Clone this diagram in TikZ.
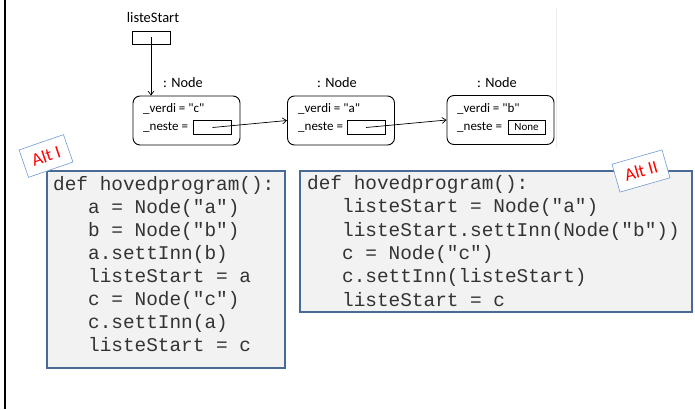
\documentclass[tikz,border=0pt]{standalone}
\usepackage{fontspec}
\setmainfont{Carlito}
\newfontfamily\cfont{Carlito}
\newfontfamily\codefont{Liberation Mono}
\usetikzlibrary{arrows.meta}
\definecolor{codebg}{HTML}{F2F2F2}
\definecolor{codeborder}{HTML}{4A6A96}
\definecolor{altborder}{HTML}{6E9BD3}
\definecolor{altred}{HTML}{FF0000}
\tikzset{
  objbox/.style={draw, line width=0.9pt, rounded corners=7pt, minimum width=107pt, minimum height=49pt, inner sep=0pt},
  ptrbox/.style={draw, line width=0.8pt, minimum width=38pt, minimum height=14pt, inner sep=0pt},
  objtitle/.style={inner sep=0pt, font=\cfont\fontsize{14.3}{16}\selectfont},
  field/.style={anchor=west, inner sep=0pt, text height=9pt, text depth=3pt, font=\cfont\fontsize{13}{15}\selectfont},
  ptrarrow/.style={-{Straight Barb[length=4pt,width=6pt]}, line width=0.7pt},
  codeblock/.style={draw=codeborder, fill=codebg, line width=1.6pt},
  codeline/.style={anchor=west, inner sep=0pt, text height=12pt, text depth=4pt, text=black!80, font=\codefont\fontsize{19.4}{23}\selectfont},
  altlabel/.style={draw=altborder, fill=white, line width=0.6pt, text=altred, minimum width=47pt, minimum height=29pt, inner sep=2pt, font=\cfont\fontsize{18}{20}\selectfont}
}
\begin{document}
\begin{tikzpicture}[x=1pt,y=-1pt]
\useasboundingbox (0,0) rectangle (695,409);
% left border line
\draw[line width=2.4pt] (5,0) -- (5,409);
% faint image boundary
\draw[black!8, line width=0.8pt] (556,8) -- (556,148);

% listeStart variable
\node[inner sep=0pt, font=\cfont\fontsize{14.5}{16}\selectfont] (lslabel) at (153,18) {listeStart};
\node[ptrbox, minimum width=38pt, minimum height=13pt] (ls) at (151,37.5) {};

% object nodes
\node[objbox] (n1) at (186.5,120.5) {};
\node[objbox] (n2) at (341,120.5) {};
\node[objbox] (n3) at (500.5,120) {};
\node[objtitle] (t1) at (183,83) {: Node};
\node[objtitle] (t2) at (337,83) {: Node};
\node[objtitle] (t3) at (497,83) {: Node};

\node[field] (v1) at (143,110) {\_verdi = "c"};
\node[field] (f1) at (143,127) {\_neste =};
\node[ptrbox] (p1) at (212.5,127.5) {};
\node[field] (v2) at (298,110) {\_verdi = "a"};
\node[field] (f2) at (298,127) {\_neste =};
\node[ptrbox] (p2) at (366,127.5) {};
\node[field] (v3) at (457,110) {\_verdi = "b"};
\node[field] (f3) at (457,127) {\_neste =};
\node[ptrbox, minimum width=37pt, font=\cfont\fontsize{11}{12}\selectfont] (p3) at (526.5,127) {None};

% connectors
\draw[ptrarrow] (ls.center) -- (ls.center |- n1.north);
\draw[ptrarrow] (p1.center) -- (n2.west);
\draw[ptrarrow] (p2.center) -- (n3.west);

% code block 1
\node[codeblock, minimum width=238pt, minimum height=197pt, anchor=north west, inner sep=0pt] (c1) at (46,170) {};
\node[codeline] (c1l1) at (53,186) {def hovedprogram():};
\node[codeline] (c1l2) at (53,209) {\ \ \ a = Node("a")};
\node[codeline] (c1l3) at (53,232) {\ \ \ b = Node("b")};
\node[codeline] (c1l4) at (53,255) {\ \ \ a.settInn(b)};
\node[codeline] (c1l5) at (53,278) {\ \ \ listeStart = a};
\node[codeline] (c1l6) at (53,301) {\ \ \ c = Node("c")};
\node[codeline] (c1l7) at (53,324) {\ \ \ c.settInn(a)};
\node[codeline] (c1l8) at (53,347) {\ \ \ listeStart = c};

% code block 2
\node[codeblock, minimum width=392pt, minimum height=141pt, anchor=north west, inner sep=0pt] (c2) at (299,170) {};
\node[codeline] (c2l1) at (307,185) {def hovedprogram():};
\node[codeline] (c2l2) at (307,208) {\ \ \ listeStart = Node("a")};
\node[codeline] (c2l3) at (307,232) {\ \ \ listeStart.settInn(Node("b"))};
\node[codeline] (c2l4) at (307,255) {\ \ \ c = Node("c")};
\node[codeline] (c2l5) at (307,278) {\ \ \ c.settInn(listeStart)};
\node[codeline] (c2l6) at (307,302) {\ \ \ listeStart = c};

% alt labels
\node[altlabel, rotate=19] (alt1) at (46,156) {Alt I};
\node[altlabel, rotate=16, minimum width=52pt] (alt2) at (641,171) {Alt II};
\end{tikzpicture}
\end{document}
